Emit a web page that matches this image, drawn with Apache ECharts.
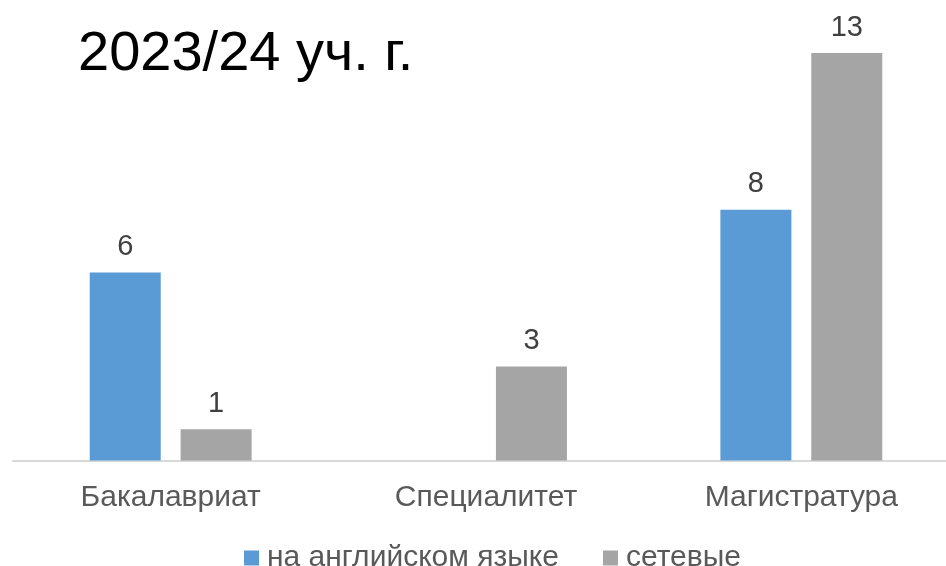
<!DOCTYPE html>
<html>
<head>
<meta charset="utf-8">
<script src="https://cdn.jsdelivr.net/npm/echarts@6/dist/echarts.min.js"></script>
<style>
  html, body { margin: 0; padding: 0; background: #fff; overflow: hidden; }
  #chart { width: 960px; height: 566px; }
</style>
</head>
<body>
<div id="chart"></div>
<script>
const categories = ['Бакалавриат', 'Специалитет', 'Магистратура']
const seriesNames = ['на английском языке', 'сетевые']
const englishValues = [6, null, 8]
const networkValues = [1, 3, 13]

const chart = echarts.init(document.getElementById('chart'))
const font = 'Liberation Sans, Arial, sans-serif'

const labelStyle = {
  show: true,
  position: 'top',
  distance: 11,
  color: '#404040',
  fontSize: 29,
  fontFamily: font
}

const option = {
  animation: false,
  title: {
    text: '2023/24 уч. г.',
    left: 73,
    top: 22,
    textStyle: {
      color: '#000',
      fontSize: 56,
      fontWeight: 'normal',
      fontFamily: font
    }
  },
  legend: {
    data: seriesNames,
    top: 538,
    left: 239,
    itemWidth: 15,
    itemHeight: 15,
    itemGap: 44,
    icon: 'rect',
    textStyle: {
      color: '#595959',
      fontSize: 30,
      fontFamily: font,
      padding: [0, 0, 0, 3]
    }
  },
  grid: {
    left: 13,
    width: 946,
    top: 53,
    height: 407.5
  },
  xAxis: {
    type: 'category',
    data: categories,
    axisLine: { lineStyle: { color: '#d9d9d9', width: 2 } },
    axisTick: { show: false },
    axisLabel: {
      color: '#595959',
      fontSize: 30,
      fontFamily: font,
      margin: 22
    }
  },
  yAxis: {
    type: 'value',
    min: 0,
    max: 13,
    show: false,
    splitLine: { show: false }
  },
  series: [
    {
      name: seriesNames[0],
      type: 'bar',
      data: englishValues,
      barWidth: 71,
      barGap: '28%',
      itemStyle: { color: '#5b9bd5' },
      label: labelStyle
    },
    {
      name: seriesNames[1],
      type: 'bar',
      data: networkValues,
      barWidth: 71,
      itemStyle: { color: '#a5a5a5' },
      label: labelStyle
    }
  ]
}

chart.setOption(option)
</script>
</body>
</html>
